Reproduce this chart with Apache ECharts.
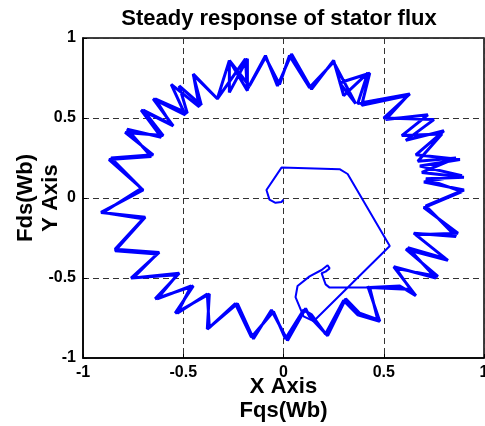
<!DOCTYPE html>
<html><head><meta charset="utf-8">
<script src="https://cdn.jsdelivr.net/npm/echarts@6/dist/echarts.min.js"></script>
<style>html,body{margin:0;padding:0;background:#fff}#c{width:485px;height:426px}</style>
</head><body><div id="c"></div>
<script>
var titleText = "Steady response of stator flux";
var xName = "X Axis\nFqs(Wb)";
var yName = "Fds(Wb)\nY Axis";
var xTicks = [-1, -0.5, 0, 0.5, 1];
var yTicks = [-1, -0.5, 0, 0.5, 1];

// transient start-up path [Fqs, Fds]
var transient = [
  [0,-0.01],[0,0],[-0.01,-0.025],[-0.04,-0.03],[-0.07,-0.01],[-0.085,0.05],[-0.01,0.19],
  [0.28,0.18],[0.32,0.15],[0.53,-0.30],[0.15,-0.77],[0.10,-0.74],[0.06,-0.62],[0.07,-0.55],
  [0.13,-0.49],[0.19,-0.45],[0.22,-0.42],[0.23,-0.44],[0.21,-0.46],[0.19,-0.47],[0.21,-0.54],
  [0.23,-0.56],[0.43,-0.56]
];
// first steady-state revolution
var loop1 = [
  [0.43,-0.56],[0.58,-0.55],[0.66,-0.61],[0.55,-0.43],[0.76,-0.50],[0.62,-0.31],[0.81,-0.38],
  [0.65,-0.22],[0.86,-0.24],[0.71,-0.05],[0.90,0.05],[0.70,0.10],[0.89,0.14],[0.68,0.20],
  [0.88,0.24],[0.66,0.27],[0.80,0.42],[0.61,0.36],[0.75,0.49],[0.50,0.50],[0.63,0.65],
  [0.37,0.59],[0.42,0.78],[0.30,0.64],[0.25,0.86],[0.14,0.68],[0.04,0.90],[-0.03,0.70],
  [-0.09,0.89],[-0.18,0.68],[-0.18,0.87],[-0.27,0.66],[-0.27,0.86],[-0.33,0.62],[-0.45,0.775],
  [-0.42,0.57],[-0.56,0.71],[-0.49,0.52],[-0.65,0.62],[-0.55,0.45],[-0.71,0.55],[-0.61,0.38],
  [-0.78,0.43],[-0.66,0.26],[-0.87,0.24],[-0.70,0.05],[-0.91,-0.09],[-0.69,-0.12],[-0.84,-0.33],
  [-0.63,-0.35],[-0.75,-0.50],[-0.52,-0.47],[-0.64,-0.63],[-0.45,-0.55],[-0.54,-0.72],
  [-0.37,-0.60],[-0.38,-0.82],[-0.23,-0.66],[-0.15,-0.88],[-0.06,-0.70],[0.02,-0.89],
  [0.11,-0.69],[0.13,-0.74],[0.22,-0.86],[0.31,-0.63],[0.38,-0.72],[0.47,-0.76],[0.43,-0.56]
];
// second steady-state revolution
var loop2 = [
  [0.62,-0.57],[0.65,-0.60],[0.56,-0.44],[0.77,-0.49],[0.61,-0.32],[0.82,-0.39],[0.66,-0.23],
  [0.87,-0.22],[0.70,-0.06],[0.89,0.04],[0.71,0.12],[0.90,0.13],[0.69,0.16],[0.86,0.25],
  [0.67,0.23],[0.79,0.40],[0.59,0.39],[0.72,0.52],[0.51,0.49],[0.62,0.64],[0.39,0.58],
  [0.43,0.78],[0.28,0.72],[0.36,0.59],[0.25,0.85],[0.13,0.69],[0.03,0.89],[-0.02,0.71],
  [-0.09,0.88],[-0.17,0.70],[-0.27,0.86],[-0.18,0.67],[-0.19,0.87],[-0.33,0.62],[-0.45,0.77],
  [-0.41,0.58],[-0.52,0.70],[-0.48,0.53],[-0.64,0.62],[-0.56,0.46],[-0.70,0.55],[-0.60,0.39],
  [-0.79,0.41],[-0.65,0.27],[-0.86,0.25],[-0.71,0.06],[-0.90,-0.09],[-0.70,-0.13],[-0.84,-0.32],
  [-0.62,-0.34],[-0.76,-0.50],[-0.53,-0.48],[-0.63,-0.63],[-0.46,-0.55],[-0.53,-0.72],
  [-0.38,-0.60],[-0.37,-0.81],[-0.24,-0.66],[-0.16,-0.87],[-0.05,-0.71],[0.01,-0.88],
  [0.10,-0.70],[0.14,-0.73],[0.21,-0.85],[0.30,-0.64],[0.37,-0.73],[0.48,-0.77],[0.42,-0.55]
];

var steady = loop1.concat(loop2);
var font = "'Liberation Sans', Arial, sans-serif";
var chart = echarts.init(document.getElementById('c'), null, {renderer:'canvas'});
chart.setOption({
  animation: false,
  backgroundColor: '#fff',
  title: {text: titleText, left: 274, top: 3, textAlign: 'center',
    textStyle: {fontFamily: font, fontWeight: 'bold', fontSize: 22, color: '#000'}},
  grid: {left: 83, right: 1, top: 38, bottom: 68, containLabel: false, outerBoundsMode: 'none',
    show: true, borderColor: '#000', borderWidth: 1.5, backgroundColor: '#fff'},
  xAxis: {type: 'value', min: xTicks[0], max: xTicks[xTicks.length-1], interval: 0.5,
    name: xName, nameLocation: 'middle', nameGap: 17, nameMoveOverlap: false,
    nameTextStyle: {fontFamily: font, fontWeight: 'bold', fontSize: 22, color: '#000', lineHeight: 24},
    axisLine: {onZero: false, lineStyle: {color: '#000', width: 1.5}},
    axisTick: {inside: true, length: 4, lineStyle: {color: '#000'}},
    axisLabel: {fontFamily: font, fontWeight: 'bold', fontSize: 16, color: '#000', margin: 7,
      formatter: function(v){return String(v);}},
    splitLine: {show: true, lineStyle: {color: '#333', type: [6,4], width: 1}}},
  yAxis: {type: 'value', min: yTicks[0], max: yTicks[yTicks.length-1], interval: 0.5,
    name: yName, nameLocation: 'middle', nameGap: 20, nameRotate: 90, nameMoveOverlap: false,
    nameTextStyle: {fontFamily: font, fontWeight: 'bold', fontSize: 22, color: '#000', lineHeight: 25},
    axisLine: {onZero: false, lineStyle: {color: '#000', width: 1.5}},
    axisTick: {inside: true, length: 4, lineStyle: {color: '#000'}},
    axisLabel: {fontFamily: font, fontWeight: 'bold', fontSize: 16, color: '#000', margin: 7,
      formatter: function(v){return String(v);}},
    splitLine: {show: true, lineStyle: {color: '#333', type: [6,4], width: 1}}},
  series: [
    {type: 'line', data: transient, showSymbol: false, smooth: false,
      lineStyle: {color: '#0000ff', width: 2}, clip: true},
    {type: 'line', data: steady, showSymbol: false, smooth: false,
      lineStyle: {color: '#0000ff', width: 3}, clip: true}
  ]
});
</script></body></html>
